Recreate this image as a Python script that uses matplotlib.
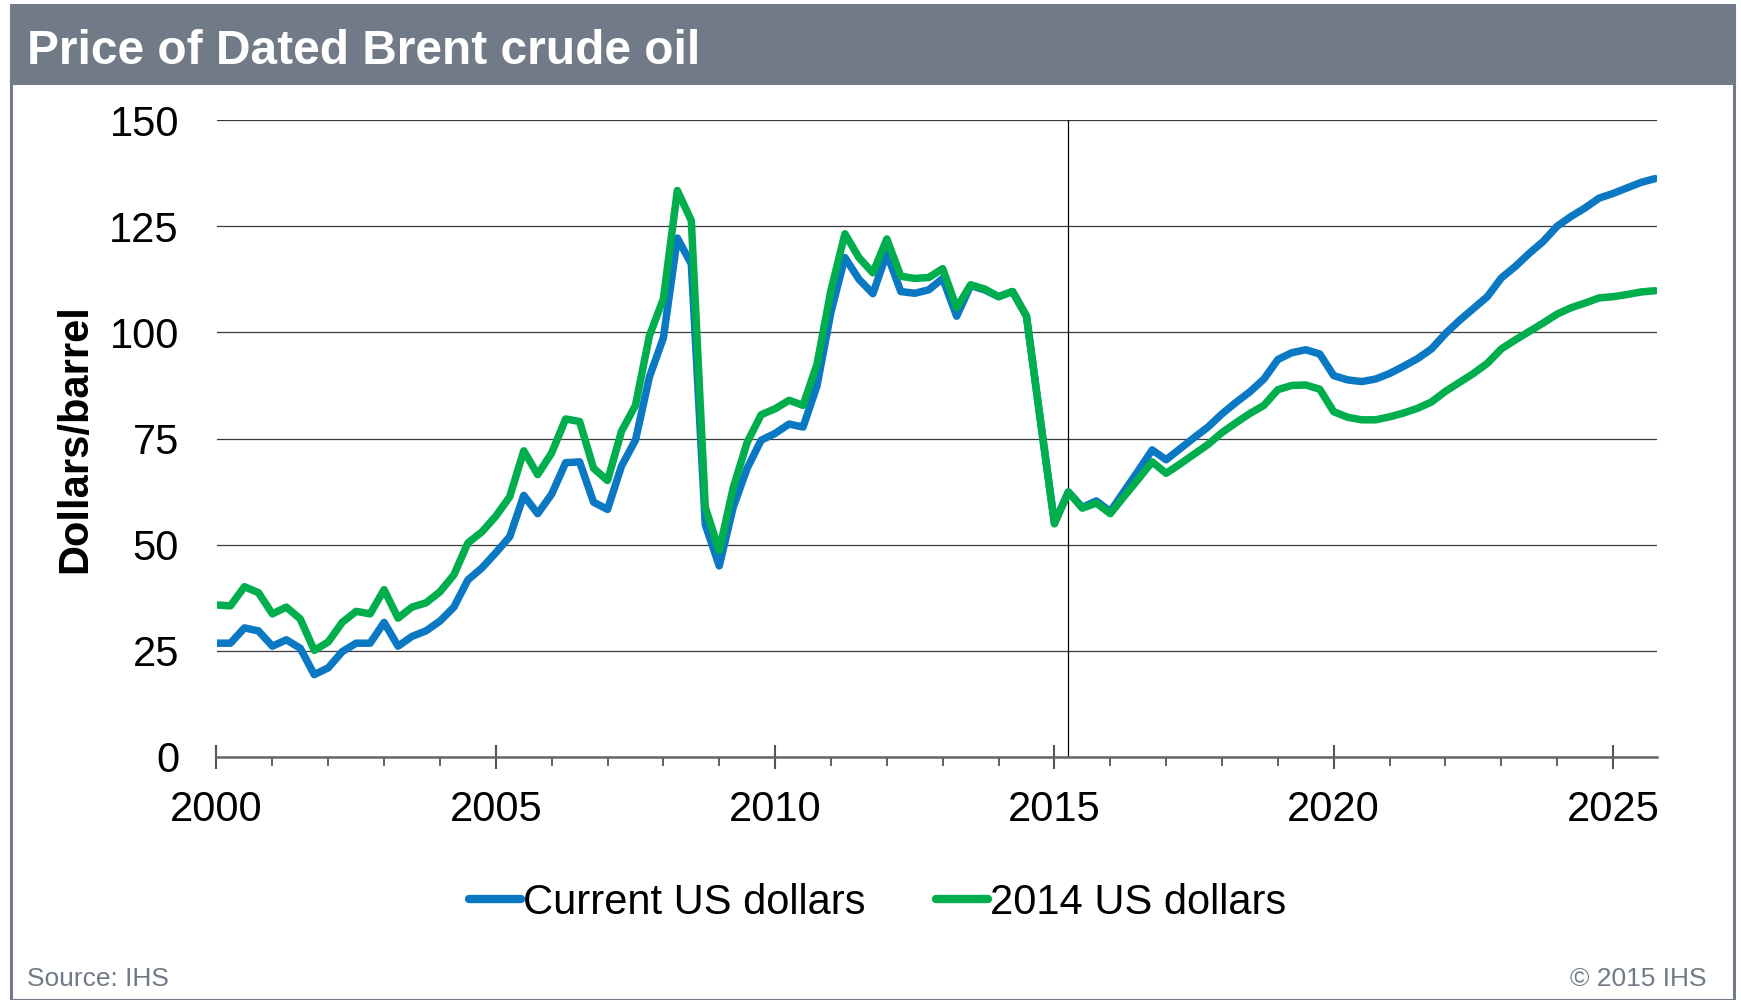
import numpy as np
import matplotlib
matplotlib.use("Agg")
import matplotlib.pyplot as plt
from matplotlib.patches import Rectangle
from matplotlib.lines import Line2D

plt.rcParams['font.family'] = ['Liberation Sans', 'DejaVu Sans']

# ==================== Data (quarterly, 2000Q1 - 2025Q4) ====================
START_YEAR = 2000
current_usd = [
    26.8, 26.8, 30.4, 29.7, 26.1, 27.6, 25.6, 19.4, 21.0, 24.8,
    26.8, 26.8, 31.7, 26.1, 28.4, 29.7, 32.0, 35.3, 41.7, 44.5,
    48.1, 51.9, 61.6, 57.3, 61.9, 69.3, 69.5, 60.0, 58.3, 68.5,
    74.6, 89.5, 98.7, 122.2, 116.1, 54.7, 45.0, 58.8, 68.0, 74.6,
    76.2, 78.4, 77.7, 87.4, 104.8, 117.6, 112.5, 109.1, 118.6, 109.6,
    109.2, 110.0, 112.7, 103.8, 111.0, 110.0, 108.4, 109.6, 103.8, 79.2,
    55.2, 62.4, 58.8, 60.3, 57.8, 62.6, 67.4, 72.3, 70.0, 72.6,
    75.2, 77.7, 80.8, 83.5, 86.0, 89.0, 93.6, 95.2, 95.9, 94.9,
    89.8, 88.8, 88.4, 89.0, 90.3, 92.0, 93.8, 96.1, 99.7, 102.8,
    105.6, 108.4, 112.8, 115.5, 118.6, 121.4, 125.0, 127.3, 129.3, 131.6,
    132.7, 134.0, 135.3, 136.2,
]
usd_2014 = [
    35.8, 35.6, 40.1, 38.7, 33.7, 35.3, 32.5, 25.1, 27.1, 31.7,
    34.3, 33.7, 39.4, 32.7, 35.3, 36.3, 38.9, 42.9, 50.4, 53.0,
    56.7, 61.3, 72.1, 66.5, 71.6, 79.6, 79.0, 68.0, 65.1, 76.7,
    82.8, 99.2, 107.9, 133.4, 126.3, 58.8, 48.6, 63.4, 74.1, 80.6,
    82.0, 84.0, 82.8, 92.5, 109.9, 123.2, 117.6, 114.0, 122.0, 113.2,
    112.7, 112.9, 115.0, 105.8, 111.2, 110.2, 108.4, 109.6, 103.8, 79.2,
    54.9, 62.4, 58.6, 59.8, 57.3, 61.4, 65.4, 69.5, 66.8, 69.0,
    71.3, 73.6, 76.4, 78.7, 80.9, 82.8, 86.5, 87.5, 87.6, 86.6,
    81.3, 80.0, 79.4, 79.4, 80.1, 81.0, 82.1, 83.6, 86.1, 88.2,
    90.3, 92.7, 96.1, 98.2, 100.2, 102.2, 104.3, 105.8, 106.9, 108.1,
    108.4, 108.9, 109.5, 109.8,
]
series_labels = ['Current US dollars', '2014 US dollars']
forecast_start = 2015.25
y_ticks = [0, 25, 50, 75, 100, 125, 150]
x_major = [2000, 2005, 2010, 2015, 2020, 2025]

BLUE = '#0a78c2'
GREEN = '#00ae4d'
FRAME = '#717b88'

quarters = START_YEAR + np.arange(len(current_usd)) / 4.0

# ==================== Figure ====================
fig = plt.figure(figsize=(17.41, 10), dpi=100)

# frame + title bar
fig.add_artist(Rectangle((11 / 1741, 0.0), (1734 - 11) / 1741, 0.9945,
                         transform=fig.transFigure, facecolor='white',
                         edgecolor=FRAME, lw=2.2, zorder=0))
fig.add_artist(Rectangle((11 / 1741, 0.917), (1734 - 11) / 1741, 0.9945 - 0.917,
                         transform=fig.transFigure, facecolor=FRAME,
                         edgecolor=FRAME, lw=2.2, zorder=1))
fig.text(27 / 1741, 0.9356, 'Price of Dated Brent crude oil', color='white',
         fontsize=34.5, fontweight='bold', ha='left', va='baseline')

ax = fig.add_axes([216.5 / 1741, 0.243, (1656.6 - 216.5) / 1741, 0.637])
ax.patch.set_alpha(0)

ax.plot(quarters, current_usd, color=BLUE, lw=5.4, solid_joinstyle='round',
        solid_capstyle='round', label=series_labels[0], zorder=3)
ax.plot(quarters, usd_2014, color=GREEN, lw=5.4, solid_joinstyle='round',
        solid_capstyle='round', label=series_labels[1], zorder=4)
ax.axvline(forecast_start, color='black', lw=0.9, zorder=2)

ax.set_xlim(2000, 2025.78)
ax.set_ylim(0, 150)
ax.set_yticks(y_ticks)
ax.set_xticks(x_major)
ax.set_xticks(np.arange(2000, 2026), minor=True)
ax.yaxis.grid(True, color='#3a3a3a', lw=0.9)
ax.set_axisbelow(True)

for s in ['left', 'top', 'right']:
    ax.spines[s].set_visible(False)
ax.spines['bottom'].set_color('#666666')
ax.spines['bottom'].set_linewidth(1.8)
ax.spines['bottom'].set_zorder(5)

ax.tick_params(axis='y', length=0, pad=27, labelsize=30)
ax.tick_params(axis='x', which='major', direction='inout', length=17, width=1.5,
               color='#555555', labelsize=30, pad=15)
ax.tick_params(axis='x', which='minor', direction='out', length=6.5, width=1.3,
               color='#555555')

fig.text(75 / 1741, 0.5614, 'Dollars/barrel', rotation=90, fontsize=30,
         fontweight='bold', ha='center', va='center')

handles = [Line2D([], [], color=BLUE, lw=6, solid_capstyle='round'),
           Line2D([], [], color=GREEN, lw=6, solid_capstyle='round')]
fig.legend(handles, series_labels, loc='center', bbox_to_anchor=(0.504, 0.097),
           ncol=2, frameon=False, fontsize=30, handlelength=1.25,
           handletextpad=0.05, columnspacing=1.7)

fig.text(27 / 1741, 0.014, 'Source: IHS', color=FRAME, fontsize=19,
         ha='left', va='baseline')
fig.text(1706 / 1741, 0.014, '\u00a9 2015 IHS', color=FRAME, fontsize=19,
         ha='right', va='baseline')

fig.savefig('out.png', dpi=100, facecolor='white')
